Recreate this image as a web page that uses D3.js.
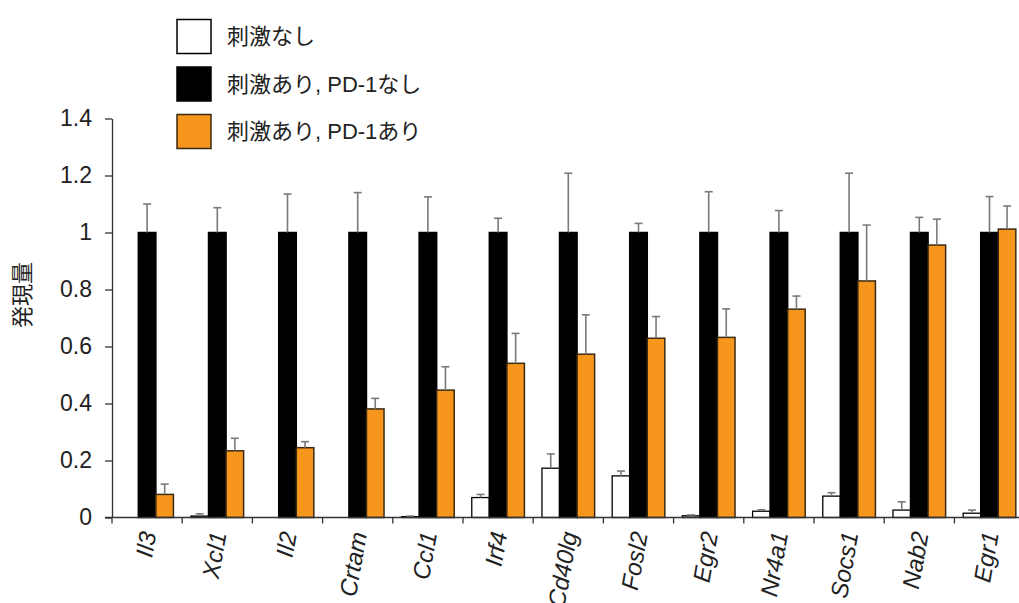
<!DOCTYPE html>
<html>
<head>
<meta charset="utf-8">
<script src="https://cdn.jsdelivr.net/npm/d3@7"></script>
<style>
  html, body { margin: 0; padding: 0; background: #fff; }
  svg { display: block; }
</style>
</head>
<body>
<svg id="chart" width="1019" height="603"></svg>
<script>
const categories = ["Il3","Xcl1","Il2","Crtam","Ccl1","Irf4","Cd40lg","Fosl2","Egr2","Nr4a1","Socs1","Nab2","Egr1"];
const seriesNames = ["刺激なし", "刺激あり, PD-1なし", "刺激あり, PD-1あり"];
const noStim      = [0, 0.005, 0, 0, 0.003, 0.070, 0.173, 0.146, 0.006, 0.022, 0.075, 0.026, 0.015];
const noStimErr   = [0, 0.008, 0, 0, 0.002, 0.011, 0.050, 0.017, 0.003, 0.005, 0.012, 0.029, 0.011];
const stimNoPD1   = [1, 1, 1, 1, 1, 1, 1, 1, 1, 1, 1, 1, 1];
const stimNoPD1Err= [0.100, 0.087, 0.135, 0.140, 0.125, 0.050, 0.208, 0.032, 0.143, 0.077, 0.208, 0.053, 0.126];
const stimPD1     = [0.081, 0.234, 0.245, 0.381, 0.447, 0.541, 0.573, 0.629, 0.632, 0.731, 0.830, 0.956, 1.012];
const stimPD1Err  = [0.036, 0.044, 0.021, 0.037, 0.082, 0.105, 0.138, 0.076, 0.100, 0.046, 0.196, 0.091, 0.081];
const yTickValues = [0, 0.2, 0.4, 0.6, 0.8, 1, 1.2, 1.4];
const yTickLabels = ["0", "0.2", "0.4", "0.6", "0.8", "1", "1.2", "1.4"];
const yTitle = "発現量";

const fills   = ["#ffffff", "#000000", "#f7961c"];
const strokes = ["#000000", "#000000", "#3a2a12"];
const values  = [noStim, stimNoPD1, stimPD1];
const errors  = [noStimErr, stimNoPD1Err, stimPD1Err];

const svg = d3.select("#chart");
const x0 = 112, groupW = 70.2;
const x = d3.scaleBand().domain(categories).range([x0, x0 + groupW * categories.length]).padding(0);
const xs = d3.scaleBand().domain(d3.range(3)).range([0, x.bandwidth()]).paddingInner(0).paddingOuter(0.5);
const y = d3.scaleLinear().domain([0, 1.4]).range([517.5, 118.5]);

const latin = "'Liberation Sans', Arial, 'Noto Sans CJK JP', sans-serif";

// bars
const rows = [];
categories.forEach((c, i) => {
  for (let s = 0; s < 3; s++) rows.push({c, s, v: values[s][i], e: errors[s][i]});
});

svg.append("g").selectAll("rect").data(rows).join("rect")
  .attr("x", d => x(d.c) + xs(d.s))
  .attr("y", d => y(d.v))
  .attr("width", xs.bandwidth())
  .attr("height", d => y(0) - y(d.v))
  .attr("fill", d => fills[d.s])
  .attr("stroke", d => strokes[d.s])
  .attr("stroke-width", d => d.s === 0 ? 1.3 : 1.5);

// error bars
const eb = svg.append("g").attr("stroke", "#7a7a7a").attr("stroke-width", 1.6).attr("fill", "none");
rows.filter(d => d.e > 0).forEach(d => {
  const cx = x(d.c) + xs(d.s) + xs.bandwidth() / 2;
  eb.append("line").attr("x1", cx).attr("x2", cx).attr("y1", y(d.v)).attr("y2", y(d.v + d.e));
  eb.append("line").attr("x1", cx - 4).attr("x2", cx + 4).attr("y1", y(d.v + d.e)).attr("y2", y(d.v + d.e));
});

// y axis
const yAxis = d3.axisLeft(y).tickValues(yTickValues).tickFormat((d, i) => yTickLabels[i]).tickSize(7).tickSizeOuter(0).tickPadding(13);
const gy = svg.append("g").attr("transform", `translate(${x0},0)`).call(yAxis);
gy.select(".domain").attr("stroke", "#333").attr("stroke-width", 1.3);
gy.selectAll(".tick line").attr("stroke", "#333").attr("stroke-width", 1.3);
gy.selectAll("text").attr("font-family", latin).attr("font-size", 23).attr("fill", "#222");

// x axis line and boundary ticks
const gx = svg.append("g").attr("stroke", "#333").attr("stroke-width", 1.3);
gx.append("line").attr("x1", x0 - 7).attr("x2", 1019).attr("y1", y(0)).attr("y2", y(0));
const bounds = categories.map(c => x(c)).concat([x.range()[1]]);
gx.selectAll("line.tk").data(bounds).join("line").attr("class", "tk")
  .attr("x1", d => d).attr("x2", d => d).attr("y1", y(0)).attr("y2", y(0) + 6);

// x labels
svg.append("g").selectAll("text").data(categories).join("text")
  .attr("transform", d => `translate(${x(d) + x.bandwidth() / 2 + 1},${532}) rotate(-80)`)
  .attr("text-anchor", "end")
  .attr("dy", "0.35em")
  .attr("font-family", latin)
  .attr("font-style", "italic")
  .attr("font-size", 24)
  .attr("fill", "#222")
  .text(d => d);

// y title
svg.append("text")
  .attr("transform", "translate(22,295) rotate(-90)")
  .attr("text-anchor", "middle")
  .attr("dy", "0.35em")
  .attr("font-family", "'Noto Sans CJK JP', sans-serif")
  .attr("font-size", 22)
  .attr("fill", "#222")
  .text(yTitle);

// legend
const lg = svg.append("g");
seriesNames.forEach((name, i) => {
  const cy = 36.5 + i * 47.5;
  lg.append("rect").attr("x", 177).attr("y", cy - 17).attr("width", 34).attr("height", 34)
    .attr("fill", fills[i]).attr("stroke", strokes[i]).attr("stroke-width", 1.5);
  lg.append("text").attr("x", 227).attr("y", cy).attr("dy", "0.35em")
    .attr("font-family", latin).attr("font-size", 22).attr("fill", "#222").text(name);
});
</script>
</body>
</html>
